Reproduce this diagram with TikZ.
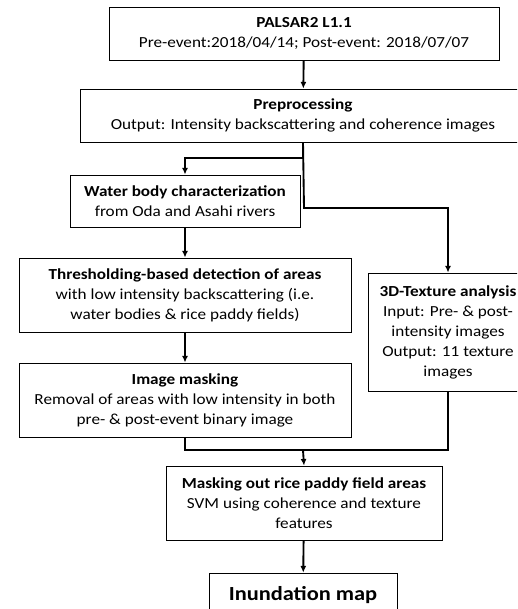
\documentclass[tikz,border=0pt]{standalone}
\usepackage{fontspec}
\setmainfont{Carlito}[FakeStretch=1.12]
\usetikzlibrary{arrows.meta}
\tikzset{every picture/.style={line width=0.75pt}}

\begin{document}
\begin{tikzpicture}[x=0.75pt,y=0.75pt,yscale=-1,xscale=1,
  box/.style={draw, line width=0.6pt, align=center, inner sep=1pt,
    font=\fontsize{11.5}{15}\selectfont},
  flow/.style={line width=1.4pt, -{Latex[length=5pt,width=4.5pt]}},
  link/.style={line width=1.4pt}]
\useasboundingbox (0,0) rectangle (517,609);
\clip (0,0) rectangle (517,609);

%Shape: Rectangle [id:palsar]
\node (palsar) at (304,33.5) [box, minimum width=292.5pt, minimum height=39.75pt] {\textbf{PALSAR2 L1.1}\\Pre-event:2018/04/14; Post-event: 2018/07/07};
%Shape: Rectangle [id:prep]
\node (prep) at (303,115.5) [box, minimum width=334.5pt, minimum height=39.75pt] {\textbf{Preprocessing}\\Output: Intensity backscattering and coherence images};
%Shape: Rectangle [id:water]
\node (water) at (185,201) [box, minimum width=172.5pt, minimum height=39pt] {\textbf{Water body characterization}\\from Oda and Asahi rivers};
%Shape: Rectangle [id:thresh]
\node (thresh) at (185,295) [box, minimum width=249pt, minimum height=55.5pt] {\textbf{Thresholding-based detection of areas}\\with low intensity backscattering (i.e.\\water bodies \& rice paddy fields)};
%Shape: Rectangle [id:texture]
\node (texture) at (448,332) [box, minimum width=120pt, minimum height=88.5pt] {\textbf{3D-Texture analysis}\\Input: Pre- \& post-\\intensity images\\Output: 11 texture\\images};
%Shape: Rectangle [id:masking]
\node (masking) at (185,400) [box, minimum width=249pt, minimum height=55.5pt] {\textbf{Image masking}\\Removal of areas with low intensity in both\\pre- \& post-event binary image};
%Shape: Rectangle [id:svm]
\node (svm) at (304,503) [box, minimum width=207pt, minimum height=55.5pt] {\textbf{Masking out rice paddy field areas}\\SVM using coherence and texture\\features};
%Shape: Rectangle [id:inund]
\node (inund) at (303,595) [box, minimum width=141pt, minimum height=33pt, font=\fontsize{15}{18}\selectfont] {\textbf{Inundation map}};

%Straight Lines
\coordinate (split) at (304,208);
\coordinate (join) at (303,450);
\draw [flow] (palsar) -- (prep);
\draw [flow] (prep.south) -- ++(0,16) -| (water.north);
\draw [flow] (prep.south) -- (split) -| (texture.north);
\draw [flow] (water) -- (thresh);
\draw [flow] (thresh) -- (masking);
\draw [link] (masking.south) |- (join);
\draw [link] (texture.south) |- (join);
\draw [flow] (join) -- (svm.north);
\draw [flow] (svm) -- (inund);

\end{tikzpicture}
\end{document}
